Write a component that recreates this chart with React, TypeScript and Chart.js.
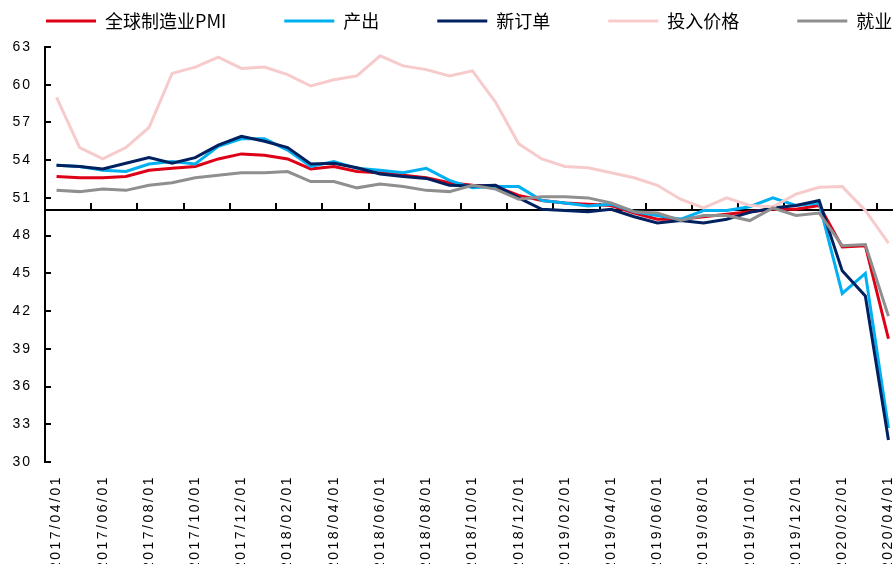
import React, { useEffect, useRef } from 'react';
import { Chart, registerables } from 'chart.js';

Chart.register(...registerables);

const labels = [
  '2017/04/01', '2017/05/01', '2017/06/01', '2017/07/01', '2017/08/01', '2017/09/01',
  '2017/10/01', '2017/11/01', '2017/12/01', '2018/01/01', '2018/02/01', '2018/03/01',
  '2018/04/01', '2018/05/01', '2018/06/01', '2018/07/01', '2018/08/01', '2018/09/01',
  '2018/10/01', '2018/11/01', '2018/12/01', '2019/01/01', '2019/02/01', '2019/03/01',
  '2019/04/01', '2019/05/01', '2019/06/01', '2019/07/01', '2019/08/01', '2019/09/01',
  '2019/10/01', '2019/11/01', '2019/12/01', '2020/01/01', '2020/02/01', '2020/03/01',
  '2020/04/01',
];

const pmi = [
  52.7, 52.6, 52.6, 52.7, 53.2, 53.35, 53.5, 54.1, 54.5, 54.4, 54.1, 53.3,
  53.5, 53.1, 53.0, 52.8, 52.6, 52.2, 52.0, 51.9, 51.2, 50.8, 50.6, 50.5,
  50.4, 49.8, 49.3, 49.3, 49.5, 49.7, 49.9, 50.1, 50.1, 50.4, 47.1, 47.2,
  39.8,
];

const output = [
  53.6, 53.5, 53.2, 53.1, 53.7, 53.9, 53.7, 55.1, 55.7, 55.7, 54.8, 53.5,
  53.9, 53.35, 53.2, 53.0, 53.35, 52.4, 51.8, 51.9, 51.9, 50.8, 50.6, 50.35,
  50.5, 49.9, 49.6, 49.3, 50.0, 50.0, 50.3, 51.0, 50.4, 50.6, 43.4, 45.0,
  32.7,
];

const newOrders = [
  53.6, 53.5, 53.3, 53.75, 54.2, 53.75, 54.2, 55.2, 55.9, 55.5, 55.0, 53.7,
  53.75, 53.4, 52.9, 52.7, 52.55, 52.0, 51.95, 52.0, 51.0, 50.1, 50.0, 49.9,
  50.1, 49.5, 49.0, 49.2, 49.0, 49.3, 49.85, 50.2, 50.4, 50.8, 45.2, 43.2,
  31.75,
];

const inputPrices = [
  59.0, 55.0, 54.1, 55.0, 56.6, 60.9, 61.4, 62.2, 61.3, 61.4, 60.8, 59.9,
  60.4, 60.7, 62.3, 61.5, 61.2, 60.7, 61.1, 58.6, 55.3, 54.1, 53.5, 53.4,
  53.0, 52.6, 52.0, 50.9, 50.2, 51.0, 50.4, 50.3, 51.3, 51.85, 51.9, 50.0,
  47.4,
];

const employment = [
  51.6, 51.5, 51.7, 51.6, 52.0, 52.2, 52.6, 52.8, 53.0, 53.0, 53.1, 52.3,
  52.3, 51.8, 52.1, 51.9, 51.6, 51.5, 52.0, 51.7, 50.9, 51.1, 51.1, 51.0,
  50.6, 49.9, 49.8, 49.2, 49.6, 49.6, 49.2, 50.2, 49.6, 49.8, 47.2, 47.3,
  41.6,
];

const seriesNames = ['全球制造业PMI', '产出', '新订单', '投入价格', '就业'];
const seriesColors = ['#DD0017', '#00B0F0', '#002060', '#F7CBCB', '#8F8F8F'];

const yTicks = { min: 30, max: 63, step: 3 };
const refLine = 50;

const CANVAS_W = 1000;
const CANVAS_H = 600;

const tickSpacingPlugin = {
  id: 'tickSpacing',
  beforeDraw(chart: any) {
    const apply = (id: string, sp: string) => {
      const s = chart.scales[id];
      if (!s || s.__sp) return;
      const orig = s.drawLabels;
      s.drawLabels = function (area: any) {
        const ctx = this.ctx;
        const prev = ctx.letterSpacing;
        ctx.letterSpacing = sp;
        orig.call(this, area);
        ctx.letterSpacing = prev || '0px';
      };
      s.__sp = true;
    };
    apply('x', '2.5px');
    apply('y', '2px');
  },
};

// axes: value axis with inward ticks, and the 50 reference line acting as category axis
const axesPlugin = {
  id: 'axesLines',
  beforeDatasetsDraw(chart: any) {
    const { ctx, chartArea } = chart;
    const x = chart.scales.x;
    const y = chart.scales.y;
    const left = Math.round(x.left);
    const top = Math.round(y.getPixelForValue(yTicks.max));
    const bottom = Math.round(y.getPixelForValue(yTicks.min));
    ctx.save();
    ctx.fillStyle = '#000';
    ctx.fillRect(left - 1, top - 1, 2, bottom - top + 2);
    for (const t of y.ticks) {
      const py = Math.round(y.getPixelForValue(t.value));
      ctx.fillRect(left, py - 1, 6, 2);
    }
    const py = Math.round(y.getPixelForValue(refLine));
    ctx.fillRect(left - 1, py - 1, Math.round(chartArea.right) - left + 1, 2);
    const half = (x.getPixelForValue(1) - x.getPixelForValue(0)) / 2;
    for (let i = 2; i < labels.length; i += 2) {
      const px = Math.round(x.getPixelForValue(i) - half);
      ctx.fillRect(px - 1, py - 7, 2, 7);
    }
    ctx.restore();
  },
};

export default function App() {
  const ref = useRef<HTMLCanvasElement>(null);

  useEffect(() => {
    const canvas = ref.current;
    if (!canvas) return;
    const values = [pmi, output, newOrders, inputPrices, employment];
    const tickFont = { family: '"Liberation Sans", Arial, sans-serif', size: 14 };
    const chart = new Chart(canvas, {
      type: 'line',
      data: {
        labels,
        datasets: values.map((d, i) => ({
          label: seriesNames[i],
          data: d,
          borderColor: seriesColors[i],
          backgroundColor: seriesColors[i],
          borderWidth: 3,
          pointRadius: 0,
          pointHoverRadius: 0,
          tension: 0,
          fill: false,
          order: values.length - i,
          xAxisID: 'x',
          yAxisID: 'y',
        })),
      },
      options: {
        responsive: false,
        animation: false,
        devicePixelRatio: 1,
        events: [],
        layout: { padding: { left: -12, right: 0, top: -46, bottom: 0 } },
        plugins: {
          legend: {
            position: 'top',
            align: 'start',
            labels: {
              usePointStyle: true,
              pointStyle: 'line',
              pointStyleWidth: 50,
              padding: 58,
              color: '#000',
              font: { family: '"Noto Sans CJK SC", sans-serif', size: 18 },
              sort: (a: any, b: any) => a.datasetIndex - b.datasetIndex,
            },
          },
          tooltip: { enabled: false },
        },
        scales: {
          x: {
            type: 'category',
            position: 'bottom',
            offset: true,
            grid: { display: false, drawTicks: false, offset: true },
            border: { display: false },
            ticks: {
              autoSkip: false,
              maxRotation: 90,
              minRotation: 90,
              padding: 13,
              color: '#000',
              font: tickFont,
              callback: (_v: any, i: number) => (i % 2 === 0 ? labels[i] : ''),
            },
            afterFit: (s: any) => {
              s.height = 138;
            },
          },
          xT: {
            type: 'category',
            axis: 'x',
            position: 'top',
            ticks: { display: false },
            grid: { display: false, drawTicks: false },
            border: { display: false },
            afterFit: (s: any) => {
              s.height = 7;
            },
          },
          y: {
            type: 'linear',
            position: 'left',
            min: yTicks.min,
            max: yTicks.max,
            ticks: { stepSize: yTicks.step, padding: 13, color: '#000', font: tickFont },
            grid: { display: false, drawTicks: false },
            border: { display: false },
            afterFit: (s: any) => {
              s.width = 57;
            },
          },
          yR: {
            type: 'linear',
            axis: 'y',
            position: 'right',
            min: yTicks.min,
            max: yTicks.max,
            ticks: { display: false },
            grid: { display: false, drawTicks: false },
            border: { display: false },
            afterFit: (s: any) => {
              s.width = 100;
            },
          },
        },
      } as any,
      plugins: [tickSpacingPlugin, axesPlugin],
    });
    return () => chart.destroy();
  }, []);

  return (
    <div
      style={{
        position: 'fixed',
        left: 0,
        top: 0,
        width: 893,
        height: 564,
        overflow: 'hidden',
        background: '#fff',
      }}
    >
      <canvas
        ref={ref}
        width={CANVAS_W}
        height={CANVAS_H}
        style={{ display: 'block', width: CANVAS_W, height: CANVAS_H }}
      />
    </div>
  );
}
